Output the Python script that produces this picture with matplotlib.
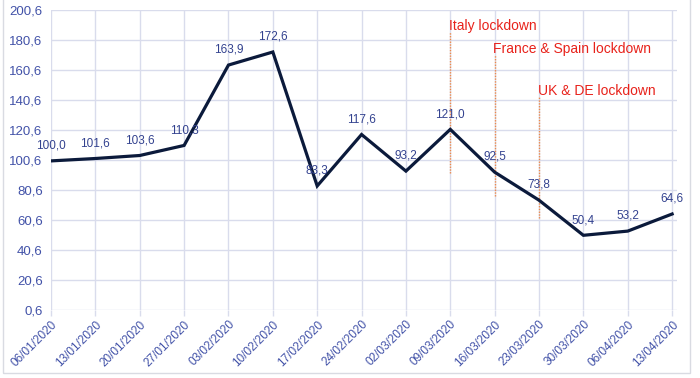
#!/usr/bin/env python3
"""Weekly index with lockdown markers."""

import matplotlib
matplotlib.use("Agg")
import matplotlib.pyplot as plt
from matplotlib.patches import Rectangle

DATES = [
    "06/01/2020", "13/01/2020", "20/01/2020", "27/01/2020", "03/02/2020",
    "10/02/2020", "17/02/2020", "24/02/2020", "02/03/2020", "09/03/2020",
    "16/03/2020", "23/03/2020", "30/03/2020", "06/04/2020", "13/04/2020",
]
VALUES = [100.0, 101.6, 103.6, 110.3, 163.9, 172.6, 83.3, 117.6, 93.2,
          121.0, 92.5, 73.8, 50.4, 53.2, 64.6]

EVENTS = ["Italy lockdown", "France & Spain lockdown", "UK & DE lockdown"]
EVENT_IDX = [9, 10, 11]
EVENT_SPAN = [(92.0, 186.0), (76.6, 170.6), (62.0, 142.6)]

Y_TICKS = [0.6 + 20 * i for i in range(11)]

LINE = "#0b1a3b"
LABEL = "#33428f"
TICK = "#4252a8"
GRID = "#d9dcec"
RED = "#e8221b"
ORANGE = "#ee8a4a"

plt.rcParams["font.family"] = ["Liberation Sans", "DejaVu Sans"]

fig = plt.figure(figsize=(7.0, 3.78), dpi=100)
ax = fig.add_axes([51 / 700, 1 - 310 / 378, 626 / 700, 300 / 378])

x = list(range(len(DATES)))
ax.plot(x, VALUES, color=LINE, lw=2.3, solid_joinstyle="miter", zorder=3)

for xi, v in zip(x, VALUES):
    ax.annotate(f"{v:.1f}".replace(".", ","), (xi, v), xytext=(0, 11),
                textcoords="offset points", ha="center", va="center",
                fontsize=8.5, color=LABEL, zorder=4)

for name, idx, (lo, hi) in zip(EVENTS, EVENT_IDX, EVENT_SPAN):
    ax.plot([idx, idx], [lo, hi], color=ORANGE, lw=1.0, ls=(0, (1, 1)), zorder=2)
    ax.text(idx - 0.03, hi + 4, name, ha="left", va="center",
            fontsize=10, color=RED, zorder=4)

ax.set_xlim(0, 14.11)
ax.set_ylim(0.6, 200.6)
ax.set_yticks(Y_TICKS)
ax.set_yticklabels([f"{t:.1f}".replace(".", ",") for t in Y_TICKS])
ax.set_xticks(x)
ax.set_xticklabels(DATES, rotation=45, ha="right", rotation_mode="anchor")

ax.grid(True, color=GRID, lw=1.0, zorder=0)
ax.set_axisbelow(True)
for s in ax.spines.values():
    s.set_visible(False)
ax.tick_params(axis="y", length=0, pad=6, labelsize=9.5, labelcolor=TICK)
ax.tick_params(axis="x", length=4, color=GRID, width=1.0, pad=2,
               labelsize=8.5, labelcolor=TICK)

# light chart border
fig.patches.append(Rectangle((3 / 700, 5 / 378), 687 / 700, 380 / 378,
                             transform=fig.transFigure, fill=False,
                             edgecolor="#d9dbe2", lw=1.0))

fig.savefig("out.png", dpi=100, facecolor="white")
